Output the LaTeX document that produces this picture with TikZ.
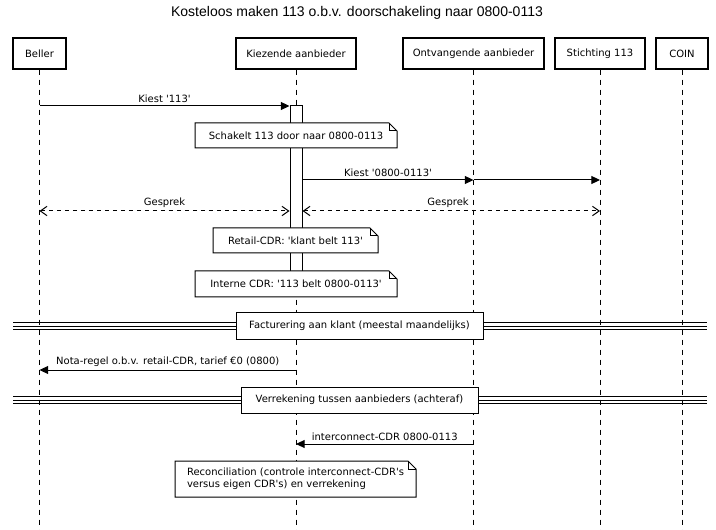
\documentclass[tikz,border=0pt]{standalone}
\usepackage{fontspec}
\setmainfont{DejaVu Sans}
\newfontfamily\titlefont{Liberation Sans}
\usepackage{tikz}
\usetikzlibrary{arrows.meta}

\newcommand{\tq}{\textquotesingle}
% note with folded corner: name, x1, y1, x2, y2, text
\newcommand{\notebox}[6]{%
  \filldraw[fill=white, line width=0.75pt] (#2,#3) -- (#4-8,#3) -- (#4,#3+8) -- (#4,#5) -- (#2,#5) -- cycle;
  \draw[line width=0.75pt] (#4-8,#3) -- (#4-8,#3+8) -- (#4,#3+8);
  \node[notetext] (#1) at ({(#2+#4)/2},{(#3+#5)/2}) {#6};
}

\tikzset{
  actor/.style={draw, line width=1.1pt, fill=white, inner sep=0pt, minimum height=23.25pt, font=\fontsize{7.5}{9}\selectfont},
  lifeline/.style={line width=0.75pt, dash pattern=on 3.75pt off 3.75pt},
  msg/.style={line width=0.75pt, -{Triangle[length=6.5pt,width=6pt]}},
  reply/.style={line width=0.75pt, dash pattern=on 3pt off 3pt, {Straight Barb[length=5pt,width=7pt]}-{Straight Barb[length=5pt,width=7pt]}},
  lbl/.style={font=\fontsize{7.5}{9}\selectfont, inner sep=1pt, above=1pt},
  notetext/.style={font=\fontsize{7.5}{9}\selectfont, inner sep=0pt, align=left},
  divider/.style={draw, line width=0.75pt, fill=white, inner sep=0pt, minimum height=19.5pt, font=\fontsize{7.5}{9}\selectfont},
}

\begin{document}
\begin{tikzpicture}[x=0.75pt,y=0.75pt,yscale=-1,xscale=1]
\useasboundingbox (0,0) rectangle (716,530);

% Title
\node[font=\titlefont\fontsize{10.5}{12}\selectfont] (title) at (357,13) {Kosteloos maken 113 o.b.v. doorschakeling naar 0800-0113};

% Participants
\node[actor, minimum width=39.75pt] (beller) at (39.5,53.5) {Beller};
\node[actor, minimum width=90pt] (kiez) at (296,53.5) {Kiezende aanbieder};
\node[actor, minimum width=105.75pt] (ontv) at (473.5,53.5) {Ontvangende aanbieder};
\node[actor, minimum width=67.5pt] (sticht) at (600,53.5) {Stichting 113};
\node[actor, minimum width=39pt] (coin) at (682,53.5) {COIN};

% Lifelines
\coordinate (bottom) at (0,530);
\foreach \p in {beller,kiez,ontv,sticht,coin}
  \draw[lifeline] (\p.south) -- (\p |- bottom);

% Activation
\node[draw, fill=white, line width=0.75pt, inner sep=0pt, minimum width=9pt, minimum height=126.75pt] (act) at (296,190.5) {};

% Kiest '113'
\coordinate (m1) at (0,106);
\draw[msg] (beller |- m1) -- node[lbl] {Kiest \tq113\tq} (act.west |- m1);

\notebox{n1}{195}{123}{397}{148}{Schakelt 113 door naar 0800-0113}

% Kiest '0800-0113'
\coordinate (m2) at (0,180);
\draw[msg] (act.east |- m2) -- node[lbl] {Kiest \tq0800-0113\tq} (ontv |- m2);
\draw[msg] (ontv |- m2) -- (sticht |- m2);

% Gesprek
\coordinate (m3) at (0,211);
\draw[reply] (beller |- m3) -- node[lbl] {Gesprek} (act.west |- m3);
\draw[reply] (act.east |- m3) -- node[lbl, anchor=south east, pos=0.565] {Gesprek} (sticht |- m3);

\notebox{n2}{213}{228}{378}{253}{Retail-CDR: \tq klant belt 113\tq}
\notebox{n3}{195}{271}{397}{297}{Interne CDR: \tq113 belt 0800-0113\tq}

% Facturering
\foreach \dy in {-3.5,0,3.5}
  \draw[line width=0.6pt] (13,326+\dy) -- (707,326+\dy);
\node[divider, minimum width=185.25pt] (fact) at (359.5,326) {Facturering aan klant (meestal maandelijks)};

% Nota-regel
\coordinate (m4) at (0,370);
\draw[msg] (kiez |- m4) -- node[lbl] {Nota-regel o.b.v. retail-CDR, tarief €0 (0800)} (beller |- m4);

% Verrekening
\foreach \dy in {-3.5,0,3.5}
  \draw[line width=0.6pt] (13,400+\dy) -- (707,400+\dy);
\node[divider, minimum width=177.75pt] (verr) at (359.5,400) {Verrekening tussen aanbieders (achteraf)};

% interconnect-CDR
\coordinate (m5) at (0,444);
\draw[msg] (ontv |- m5) -- node[lbl] {interconnect-CDR 0800-0113} (kiez |- m5);

\notebox{n4}{175}{461}{416}{497}{Reconciliation (controle interconnect-CDR\tq s\\versus eigen CDR\tq s) en verrekening}

\end{tikzpicture}
\end{document}
